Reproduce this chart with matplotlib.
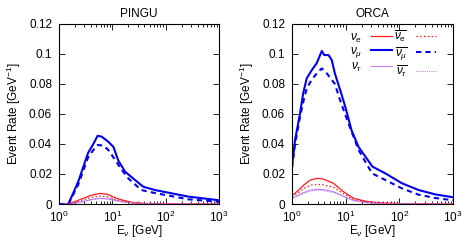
import matplotlib
matplotlib.use("Agg")
import matplotlib.pyplot as plt
from matplotlib.ticker import LogLocator, FormatStrFormatter, NullFormatter

plt.rcParams['font.family'] = ['Liberation Sans', 'DejaVu Sans']
plt.rcParams['mathtext.fontset'] = 'custom'
plt.rcParams['mathtext.rm'] = 'Liberation Sans'
plt.rcParams['mathtext.it'] = 'Liberation Sans:italic'
plt.rcParams['font.size'] = 8.5

# ---------------- data (energy in GeV, rate in GeV^-1) ----------------
pingu_numu_E = [1, 1.5, 2.3, 3.5, 4.4, 5.3, 6.3, 8.4, 10.5, 12.9, 17.4, 26.6, 38, 63, 270, 1000]
pingu_numu = [0, 0, 0.015, 0.034, 0.040, 0.0455, 0.0449, 0.0415, 0.038, 0.029, 0.0215, 0.016, 0.0115, 0.0093, 0.0049, 0.0025]

pingu_numubar_E = [1, 1.5, 2.3, 3.5, 4.4, 5.3, 6.8, 8.4, 10.5, 15, 20, 35, 63, 270, 1000]
pingu_numubar = [0, 0, 0.013, 0.031, 0.036, 0.0393, 0.039, 0.036, 0.031, 0.0227, 0.017, 0.0093, 0.0073, 0.0031, 0.0015]

pingu_small_E = [1, 1.5, 2.5, 4, 5.9, 8, 12, 17, 25, 40, 100, 1000]
pingu_nue = [0, 0, 0.003, 0.0058, 0.0071, 0.0065, 0.0038, 0.0022, 0.0009, 0.0004, 0.0001, 0]
pingu_nuebar = [0, 0, 0.0022, 0.0043, 0.0053, 0.0048, 0.0028, 0.0016, 0.0007, 0.0003, 0.0001, 0]
pingu_nutau = [0, 0, 0.0012, 0.0030, 0.0038, 0.0035, 0.0022, 0.0013, 0.0006, 0.0002, 0.0001, 0]
pingu_nutaubar = [0, 0, 0.0011, 0.0027, 0.0035, 0.0032, 0.0020, 0.0012, 0.0005, 0.0002, 0.0001, 0]

orca_numu_E = [1, 1.14, 1.41, 1.62, 1.88, 2.34, 2.88, 3.59, 3.98, 4.79, 5.5, 6.3, 7.9, 9.8, 12.9, 17.4, 31.6, 55, 112, 229, 468, 1000]
orca_numu = [0.0249, 0.0427, 0.0604, 0.074, 0.0838, 0.0893, 0.0938, 0.102, 0.0993, 0.0993, 0.096, 0.087, 0.076, 0.065, 0.049, 0.038, 0.0249, 0.0204, 0.0138, 0.0093, 0.0064, 0.0045]

orca_numubar_E = [1, 1.14, 1.41, 1.62, 1.88, 2.34, 2.88, 3.59, 4.47, 6.3, 7.9, 11.2, 17.4, 31, 55, 112, 229, 468, 1000]
orca_numubar = [0.024, 0.040, 0.058, 0.068, 0.077, 0.083, 0.087, 0.0904, 0.087, 0.080, 0.069, 0.054, 0.036, 0.0204, 0.016, 0.0104, 0.0062, 0.004, 0.0025]

orca_small_E = [1, 1.3, 1.7, 2.2, 2.9, 3.8, 5.9, 9.1, 14, 25, 50, 100, 1000]
orca_nue = [0.0055, 0.009, 0.013, 0.016, 0.0171, 0.0167, 0.0138, 0.0082, 0.0038, 0.0016, 0.0006, 0.0003, 0.0]
orca_nuebar = [0.0048, 0.0075, 0.0105, 0.0125, 0.0131, 0.0128, 0.0112, 0.0068, 0.0031, 0.0013, 0.0005, 0.0002, 0.0]
orca_nutau = [0.0038, 0.0058, 0.0078, 0.0092, 0.0098, 0.0096, 0.0082, 0.0052, 0.0024, 0.0009, 0.0004, 0.0002, 0.0]
orca_nutaubar = [0.0035, 0.0054, 0.0073, 0.0086, 0.0091, 0.0089, 0.0076, 0.0048, 0.0022, 0.0008, 0.0003, 0.0001, 0.0]

titles = ["PINGU", "ORCA"]
yticks = [0, 0.02, 0.04, 0.06, 0.08, 0.1, 0.12]

BLUE = '#0000ee'
RED = '#ff1a1a'
PURPLE = '#c07cf0'

fig = plt.figure(figsize=(4.65, 2.45), dpi=100)
ax1 = fig.add_axes([59/465, 1-204/245, 160/465, 180/245])
ax2 = fig.add_axes([292/465, 1-204/245, 161/465, 180/245])

def style(ax, title):
    ax.set_xscale('log')
    ax.set_xlim(1, 1000)
    ax.set_ylim(0, 0.12)
    ax.set_yticks(yticks)
    ax.yaxis.set_major_formatter(FormatStrFormatter('%g'))
    ax.xaxis.set_major_locator(LogLocator(base=10, numticks=10))
    ax.xaxis.set_minor_locator(LogLocator(base=10, subs=range(2, 10), numticks=10))
    ax.xaxis.set_minor_formatter(NullFormatter())
    ax.tick_params(which='both', direction='in', top=True, right=True, width=0.6)
    ax.tick_params(which='major', length=4)
    ax.tick_params(axis='y', which='major', pad=5)
    ax.tick_params(axis='x', which='major', pad=4)
    ax.tick_params(which='minor', length=2)
    for s in ax.spines.values():
        s.set_linewidth(0.8)
    ax.set_title(title, fontsize=8.5, pad=5)
    ax.set_xlabel(r'E$_\nu$ [GeV]', labelpad=-1)
    ax.set_ylabel(r'Event Rate [GeV$^{-1}$]', labelpad=4)

for ax, title in zip([ax1, ax2], titles):
    style(ax, title)

def draw(ax, smallE, nue, nuebar, nutau, nutaubar, muE, numu, mubE, numubar):
    h = {}
    h['nue'], = ax.plot(smallE, nue, color=RED, lw=0.9)
    h['numu'], = ax.plot(muE, numu, color=BLUE, lw=1.5)
    h['nutau'], = ax.plot(smallE, nutau, color=PURPLE, lw=0.8)
    h['nuebar'], = ax.plot(smallE, nuebar, color=RED, lw=0.9, ls=(0, (1.2, 1.8)))
    h['numubar'], = ax.plot(mubE, numubar, color=BLUE, lw=1.5, ls=(0, (2.5, 2.0)))
    h['nutaubar'], = ax.plot(smallE, nutaubar, color=PURPLE, lw=0.7, ls=(0, (1, 1.2)))
    return h

draw(ax1, pingu_small_E, pingu_nue, pingu_nuebar, pingu_nutau, pingu_nutaubar,
     pingu_numu_E, pingu_numu, pingu_numubar_E, pingu_numubar)
h = draw(ax2, orca_small_E, orca_nue, orca_nuebar, orca_nutau, orca_nutaubar,
         orca_numu_E, orca_numu, orca_numubar_E, orca_numubar)

handles = [h['nue'], h['numu'], h['nutau'], h['nuebar'], h['numubar'], h['nutaubar']]
labels = [r'$\nu_\mathrm{e}$', r'$\nu_\mu$', r'$\nu_\tau$',
          r'$\overline{\nu_\mathrm{e}}$', r'$\overline{\nu_\mu}$', r'$\overline{\nu_\tau}$']
ax2.legend(handles, labels, ncol=2, loc='upper right', frameon=False, markerfirst=False,
           handlelength=1.7, handletextpad=0.75, columnspacing=0.25, labelspacing=0.05,
           fontsize=8.5, borderaxespad=0.0, bbox_to_anchor=(0.925, 1.0))

fig.savefig('out.png', dpi=100)
